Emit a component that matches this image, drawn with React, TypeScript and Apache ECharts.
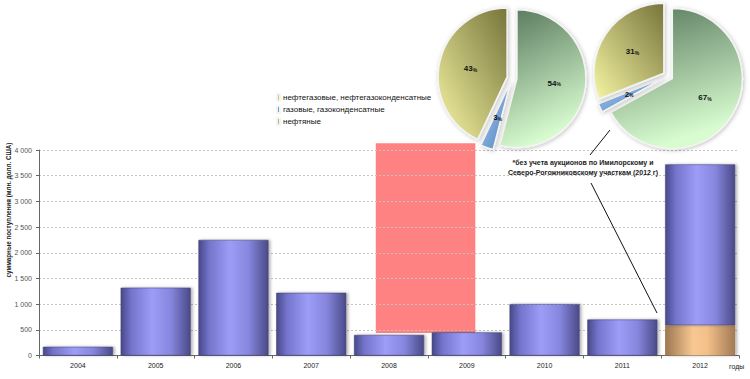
import React, { useEffect, useRef } from "react";
import * as echarts from "echarts";

const years = ["2004", "2005", "2006", "2007", "2008", "2009", "2010", "2011", "2012"];
const mainValues = [170, 1320, 2250, 1220, 400, 450, 1000, 700, 3130];
const excludedValues: (number | string)[] = ["-", "-", "-", "-", "-", "-", "-", "-", 590];
const yTicks = [0, 500, 1000, 1500, 2000, 2500, 3000, 3500, 4000];
const pinkX = [4.33, 5.61];
const pinkY = [440, 4130];

const typeNames = ["нефтяные", "газовые, газоконденсатные", "нефтегазовые, нефтегазоконденсатные"];
const legendOrder = ["нефтегазовые, нефтегазоконденсатные", "газовые, газоконденсатные", "нефтяные"];
const pieA = [54, 3, 43];
const pieB = [67, 2, 31];

const FONT = "Liberation Sans";

const greenGrad = { type: "linear", x: 0, y: 0, x2: 0.3, y2: 1, colorStops: [{ offset: 0, color: "#55765a" }, { offset: 1, color: "#d8fcd0" }] };
const blueGrad = { type: "linear", x: 0, y: 0, x2: 1, y2: 1, colorStops: [{ offset: 0, color: "#a8ccf0" }, { offset: 1, color: "#4f80bd" }] };
const oliveGrad = { type: "linear", x: 1, y: 0, x2: 0, y2: 1, colorStops: [{ offset: 0, color: "#77743a" }, { offset: 1, color: "#f6f6a4" }] };
const sliceColors = [greenGrad, blueGrad, oliveGrad];
const legendColors: Record<string, string> = {
  "нефтегазовые, нефтегазоконденсатные": "#c8c67a",
  "газовые, газоконденсатные": "#6e9cd2",
  "нефтяные": "#8fc88e",
};

function pieSeries(values: number[], center: number[], radius: number) {
  return {
    type: "pie",
    center,
    radius,
    startAngle: 90,
    clockwise: true,
    selectedMode: "multiple",
    selectedOffset: 5,
    silent: true,
    z: 5,
    label: {
      show: true,
      position: "inside",
      formatter: (p: any) => `{a|${p.value}}{b|%}`,
      rich: {
        a: { fontSize: 8, fontWeight: "bold", color: "#111", fontFamily: FONT },
        b: { fontSize: 5, fontWeight: "bold", color: "#111", fontFamily: FONT, padding: [2, 0, 0, 0] },
      },
    },
    labelLine: { show: false },
    itemStyle: { borderColor: "#f4f4f4", borderWidth: 1.5, shadowBlur: 4, shadowColor: "rgba(0,0,0,0.25)", shadowOffsetX: 1, shadowOffsetY: 1 },
    data: values.map((v, i) => ({ name: typeNames[i], value: v, selected: true, itemStyle: { color: sliceColors[i] } })),
  };
}

export default function App() {
  const ref = useRef<HTMLDivElement>(null);
  useEffect(() => {
    document.body.style.margin = "0";
    const chart = echarts.init(ref.current!, undefined, { renderer: "svg" });
    const purpleGrad = { type: "linear", x: 0, y: 0, x2: 1, y2: 0, colorStops: [
      { offset: 0, color: "#48488a" }, { offset: 0.15, color: "#7474cc" }, { offset: 0.45, color: "#9d9df8" },
      { offset: 0.72, color: "#8686de" }, { offset: 1, color: "#4a4a88" }] };
    const orangeGrad = { type: "linear", x: 0, y: 0, x2: 1, y2: 0, colorStops: [
      { offset: 0, color: "#9c7650" }, { offset: 0.4, color: "#f8c892" }, { offset: 0.6, color: "#f3c08a" }, { offset: 1, color: "#a27a54" }] };
    const baseGraphics: any[] = [
      { type: "text", x: 8, y: 210, rotation: Math.PI / 2, z: 10,
        style: { text: "суммарные поступления (млн. долл. США)", fontSize: 6.3, fontWeight: "bold", fill: "#222", align: "center", verticalAlign: "middle", fontFamily: FONT } },
      { type: "text", x: 583, y: 157, z: 10,
        style: { text: "*без учета аукционов по Имилорскому и\nСеверо-Рогожниковскому участкам (2012 г)", fontSize: 7, fontWeight: "bold", fill: "#222", align: "center", lineHeight: 10, fontFamily: FONT } },
      { type: "line", z: 10, shape: { x1: 610, y1: 130, x2: 590, y2: 155 }, style: { stroke: "#111", lineWidth: 1 } },
      { type: "line", z: 10, shape: { x1: 591, y1: 183, x2: 657, y2: 313 }, style: { stroke: "#111", lineWidth: 1 } },
    ];
    chart.setOption({
      animation: false,
      textStyle: { fontFamily: FONT },
      grid: { left: 39, right: 11, top: 150, bottom: 23.5, outerBoundsMode: "none", containLabel: false },
      legend: {
        orient: "vertical",
        left: 271,
        top: 88,
        itemWidth: 3,
        itemHeight: 7,
        itemGap: 3,
        selectedMode: false,
        textStyle: { fontSize: 8, color: "#111", fontFamily: FONT, padding: [0, 0, 0, -2] },
        data: legendOrder.map((n) => ({ name: n, icon: "rect", itemStyle: { color: legendColors[n] } })),
      },
      xAxis: [
        {
          type: "category",
          data: years,
          axisLine: { lineStyle: { color: "#666" } },
          axisTick: { show: true, length: 3, lineStyle: { color: "#666" } },
          axisLabel: { fontSize: 7, color: "#222", margin: 6 },
          name: "годы",
          nameLocation: "end",
          nameGap: -10,
          nameTextStyle: { fontSize: 7, color: "#222", align: "left", verticalAlign: "top", padding: [7, 0, 0, 0] },
        },
        { type: "value", min: 0, max: 9, show: false },
      ],
      yAxis: {
        type: "value",
        min: yTicks[0],
        max: yTicks[yTicks.length - 1],
        interval: 500,
        axisLine: { show: true, lineStyle: { color: "#666" } },
        axisTick: { show: true, length: 3, lineStyle: { color: "#666" } },
        axisLabel: { fontSize: 7, color: "#555", margin: 7, formatter: (v: number) => String(v).replace(/\B(?=(\d{3})+(?!\d))/g, " ") },
        splitLine: { lineStyle: { color: "#c4c4c4", type: [2, 2] } },
      },
      graphic: baseGraphics,
      series: [
        {
          type: "bar",
          name: "excluded",
          stack: "s",
          data: excludedValues,
          barCategoryGap: "10%",
          itemStyle: { color: orangeGrad, shadowBlur: 3, shadowColor: "rgba(0,0,0,0.3)", shadowOffsetX: 2 },
          z: 3,
        },
        {
          type: "bar",
          name: "main",
          stack: "s",
          data: mainValues,
          barCategoryGap: "10%",
          itemStyle: { color: purpleGrad, borderColor: "#3e3e70", borderWidth: 0.5, shadowBlur: 3, shadowColor: "rgba(0,0,0,0.3)", shadowOffsetX: 2 },
          z: 3,
        },
        pieSeries(pieA, [512, 78], 69),
        pieSeries(pieB, [668, 76], 70),
      ],
    });
    const p0 = chart.convertToPixel({ xAxisIndex: 1, yAxisIndex: 0 } as any, [pinkX[0], pinkY[1]]) as number[];
    const p1 = chart.convertToPixel({ xAxisIndex: 1, yAxisIndex: 0 } as any, [pinkX[1], pinkY[0]]) as number[];
    chart.setOption({
      graphic: [
        ...baseGraphics,
        { type: "rect", z: -1, silent: true, shape: { x: p0[0], y: p0[1], width: p1[0] - p0[0], height: p1[1] - p0[1] }, style: { fill: "#ff8282" } },
      ],
    });
    return () => chart.dispose();
  }, []);
  return <div ref={ref} style={{ width: 750, height: 379 }} />;
}
